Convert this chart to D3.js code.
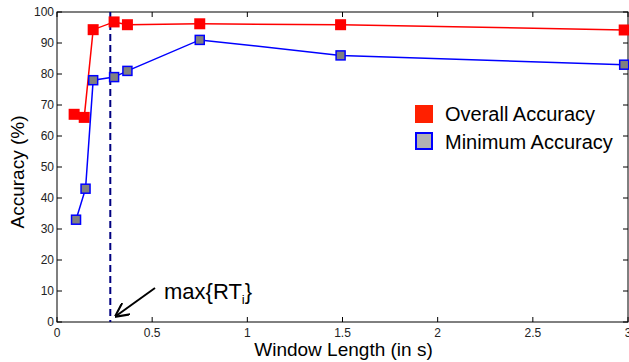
<!DOCTYPE html>
<html>
<head>
<meta charset="utf-8">
<script src="https://cdn.jsdelivr.net/npm/d3@7"></script>
<style>
  body { margin: 0; background: #fff; }
  svg { display: block; font-family: "Liberation Sans", Arial, sans-serif; }
</style>
</head>
<body>
<svg id="chart" width="629" height="362"></svg>
<script>
// data
const windowLen = [0.1, 0.15, 0.19, 0.3, 0.37, 0.75, 1.49, 2.98];
const overallAcc = [67, 66, 94.3, 96.8, 95.9, 96.2, 95.9, 94.2];
const minimumAcc = [33, 43, 78, 79, 81, 91, 86, 83];
const overallX = [0.09, 0.143, 0.19, 0.3, 0.37, 0.75, 1.49, 2.98];
const maxRT = 0.28;
const xTicks = [0, 0.5, 1, 1.5, 2, 2.5, 3];
const yTicks = [0, 10, 20, 30, 40, 50, 60, 70, 80, 90, 100];

const margin = { top: 12, left: 57, right: 1, bottom: 40 };
const W = 629, H = 362;
const svg = d3.select("#chart");

const x = d3.scaleLinear().domain([0, 3]).range([margin.left, W - margin.right]);
const y = d3.scaleLinear().domain([0, 100]).range([H - margin.bottom, margin.top]);

// axis box
svg.append("rect")
  .attr("x", x(0)).attr("y", y(100))
  .attr("width", x(3) - x(0)).attr("height", y(0) - y(100))
  .attr("fill", "none").attr("stroke", "#000").attr("stroke-width", 1);

// ticks (inward, on all sides)
const tk = 5;
const g = svg.append("g").attr("stroke", "#000").attr("stroke-width", 1);
xTicks.forEach(t => {
  g.append("line").attr("x1", x(t)).attr("x2", x(t)).attr("y1", y(0)).attr("y2", y(0) - tk);
  g.append("line").attr("x1", x(t)).attr("x2", x(t)).attr("y1", y(100)).attr("y2", y(100) + tk);
});
yTicks.forEach(t => {
  g.append("line").attr("x1", x(0)).attr("x2", x(0) + tk).attr("y1", y(t)).attr("y2", y(t));
  g.append("line").attr("x1", x(3)).attr("x2", x(3) - tk).attr("y1", y(t)).attr("y2", y(t));
});

svg.append("g").selectAll("text").data(xTicks).join("text")
  .attr("x", d => x(d)).attr("y", y(0) + 15)
  .attr("text-anchor", "middle").attr("font-size", 12).attr("fill", "#222")
  .text(d => d);
svg.append("g").selectAll("text").data(yTicks).join("text")
  .attr("x", x(0) - 3).attr("y", d => y(d) + 4)
  .attr("text-anchor", "end").attr("font-size", 12).attr("fill", "#222")
  .text(d => d);

// axis labels
svg.append("text").attr("x", (x(0) + x(3)) / 2 + 1).attr("y", 356)
  .attr("text-anchor", "middle").attr("font-size", 19).text("Window Length (in s)");
svg.append("text")
  .attr("transform", `translate(24,${(y(0) + y(100)) / 2 + 5}) rotate(-90)`)
  .attr("text-anchor", "middle").attr("font-size", 19).text("Accuracy (%)");

// max RT dashed line
svg.append("line")
  .attr("x1", x(maxRT)).attr("x2", x(maxRT)).attr("y1", y(100)).attr("y2", y(0))
  .attr("stroke", "#000080").attr("stroke-width", 2).attr("stroke-dasharray", "7,4");

// series
const redPts = overallX.map((d, i) => [d, overallAcc[i]]);
const bluePts = windowLen.map((d, i) => [d, minimumAcc[i]]);
const line = d3.line().x(d => x(d[0])).y(d => y(d[1]));

svg.append("path").datum(redPts).attr("d", line)
  .attr("fill", "none").attr("stroke", "#ff0000").attr("stroke-width", 1.5);
svg.append("g").selectAll("rect").data(redPts).join("rect")
  .attr("x", d => x(d[0]) - 5.5).attr("y", d => y(d[1]) - 5.5)
  .attr("width", 11).attr("height", 11).attr("fill", "#ff0000");

svg.append("path").datum(bluePts).attr("d", line)
  .attr("fill", "none").attr("stroke", "#0000ff").attr("stroke-width", 1.5);
svg.append("g").selectAll("rect").data(bluePts).join("rect")
  .attr("x", d => x(d[0]) - 4.5).attr("y", d => y(d[1]) - 4.5)
  .attr("width", 9).attr("height", 9).attr("fill", "#808080")
  .attr("stroke", "#0000ff").attr("stroke-width", 1.5);

// legend
const leg = svg.append("g");
leg.append("rect").attr("x", 415).attr("y", 105).attr("width", 18).attr("height", 18).attr("fill", "#ff2000");
leg.append("text").attr("x", 445).attr("y", 121).attr("font-size", 20).text("Overall Accuracy");
leg.append("rect").attr("x", 416).attr("y", 133).attr("width", 16).attr("height", 16)
  .attr("fill", "#b3b3b3").attr("stroke", "#0000ff").attr("stroke-width", 2);
leg.append("text").attr("x", 445).attr("y", 149).attr("font-size", 20).text("Minimum Accuracy");

// annotation
svg.append("defs").append("marker")
  .attr("id", "arr").attr("viewBox", "0 0 10 10").attr("refX", 9).attr("refY", 5)
  .attr("markerWidth", 7).attr("markerHeight", 7).attr("orient", "auto")
  .append("path").attr("d", "M0,0 L10,5 L0,10").attr("fill", "none")
  .attr("stroke", "#000").attr("stroke-width", 1.5);
svg.append("line")
  .attr("x1", 155).attr("y1", 288).attr("x2", 116).attr("y2", 316)
  .attr("stroke", "#000").attr("stroke-width", 2).attr("marker-end", "url(#arr)");
const ann = svg.append("text").attr("x", 164).attr("y", 299).attr("font-size", 22);
ann.append("tspan").text("max{RT");
ann.append("tspan").attr("font-size", 13).attr("dy", 5).text("i");
ann.append("tspan").attr("dy", -5).text("}");
</script>
</body>
</html>
